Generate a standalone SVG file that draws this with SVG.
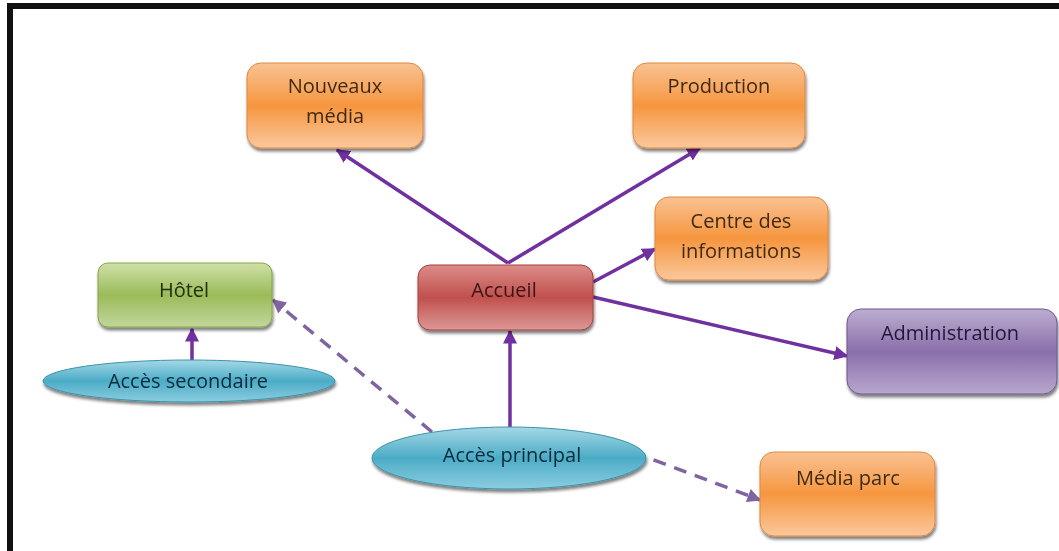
<svg xmlns="http://www.w3.org/2000/svg" width="1059" height="551" viewBox="0 0 1059 551">
<style>
.t{font-family:"Open Sans","Liberation Sans",sans-serif;font-size:20px;text-anchor:middle}
.c{stroke:#7030a0;stroke-width:3.5;fill:none}
.d{stroke:#8064a2;stroke-width:3.5;fill:none;stroke-dasharray:13 9}
</style>
<defs>
<linearGradient id="gO" x1="0" y1="0" x2="0" y2="1"><stop offset="0" stop-color="#f9c293"/><stop offset="0.5" stop-color="#f6963f"/><stop offset="1" stop-color="#fac89c"/></linearGradient>
<linearGradient id="gR" x1="0" y1="0" x2="0" y2="1"><stop offset="0" stop-color="#dc8c89"/><stop offset="0.5" stop-color="#c0504d"/><stop offset="1" stop-color="#dc9896"/></linearGradient>
<linearGradient id="gP" x1="0" y1="0" x2="0" y2="1"><stop offset="0" stop-color="#bcaed0"/><stop offset="0.5" stop-color="#8a6fab"/><stop offset="1" stop-color="#b7a8cc"/></linearGradient>
<linearGradient id="gG" x1="0" y1="0" x2="0" y2="1"><stop offset="0" stop-color="#cfe0a8"/><stop offset="0.5" stop-color="#9bbb59"/><stop offset="1" stop-color="#c3d69b"/></linearGradient>
<linearGradient id="gB" x1="0" y1="0" x2="0" y2="1"><stop offset="0" stop-color="#a5d8e6"/><stop offset="0.5" stop-color="#4bacc6"/><stop offset="1" stop-color="#8ccde0"/></linearGradient>
<filter id="sh" x="-10%" y="-10%" width="120%" height="130%"><feDropShadow dx="1" dy="3" stdDeviation="1.5" flood-color="#000" flood-opacity="0.5"/></filter>
<marker id="a" viewBox="0 0 10 10" refX="9" refY="5" markerWidth="4" markerHeight="4" orient="auto" markerUnits="strokeWidth"><path d="M0 0L10 5L0 10z" fill="#7030a0"/></marker>
<marker id="ad" viewBox="0 0 10 10" refX="9" refY="5" markerWidth="4" markerHeight="4" orient="auto" markerUnits="strokeWidth"><path d="M0 0L10 5L0 10z" fill="#8064a2"/></marker>
</defs>
<rect x="0" y="0" width="1059" height="551" fill="#fff"/>
<path d="M10 551V6H1059" fill="none" stroke="#111" stroke-width="6"/>
<g id="connectors">
<path class="c" d="M508 263L337 150" marker-end="url(#a)"/>
<path class="c" d="M508 263L700 148" marker-end="url(#a)"/>
<path class="c" d="M593 282L655 249" marker-end="url(#a)"/>
<path class="c" d="M593 297L847 356" marker-end="url(#a)"/>
<path class="c" d="M510 427V331" marker-end="url(#a)"/>
<path class="c" d="M192 360V329" marker-end="url(#a)"/>
<path class="d" d="M432 432L273 300" marker-end="url(#ad)"/>
<path class="d" d="M633 452L760 500" marker-end="url(#ad)"/>
</g>
<g id="n-nouveaux" filter="url(#sh)">
<rect x="247" y="63" width="176" height="85" rx="14" fill="url(#gO)" stroke="#e2883f" stroke-width="1"/>
<text class="t" x="335" y="93" fill="#3f2a14">Nouveaux</text>
<text class="t" x="335" y="123" fill="#3f2a14">média</text>
</g>
<g id="n-production" filter="url(#sh)">
<rect x="633" y="63" width="172" height="85" rx="14" fill="url(#gO)" stroke="#e2883f" stroke-width="1"/>
<text class="t" x="719" y="93" fill="#3f2a14">Production</text>
</g>
<g id="n-centre" filter="url(#sh)">
<rect x="655" y="197" width="173" height="83" rx="14" fill="url(#gO)" stroke="#e2883f" stroke-width="1"/>
<text class="t" x="741" y="228" fill="#3f2a14">Centre des</text>
<text class="t" x="741" y="258" fill="#3f2a14">informations</text>
</g>
<g id="n-accueil" filter="url(#sh)">
<rect x="418" y="265" width="175" height="65" rx="12" fill="url(#gR)" stroke="#a8403d" stroke-width="1"/>
<text class="t" x="504" y="297" fill="#3a1414">Accueil</text>
</g>
<g id="n-administration" filter="url(#sh)">
<rect x="847" y="309" width="210" height="85" rx="14" fill="url(#gP)" stroke="#6f5590" stroke-width="1"/>
<text class="t" x="950" y="340" fill="#24183a">Administration</text>
</g>
<g id="n-hotel" filter="url(#sh)">
<rect x="98" y="263" width="174" height="64" rx="10" fill="url(#gG)" stroke="#86a548" stroke-width="1"/>
<text class="t" x="184" y="297" fill="#22300e">Hôtel</text>
</g>
<g id="n-acces-secondaire" filter="url(#sh)">
<ellipse cx="189" cy="381" rx="146" ry="21" fill="url(#gB)" stroke="#3a93ab" stroke-width="1"/>
<text class="t" x="188" y="388" fill="#0e2a3a">Accès secondaire</text>
</g>
<g id="n-acces-principal" filter="url(#sh)">
<ellipse cx="509" cy="458" rx="137" ry="31" fill="url(#gB)" stroke="#3a93ab" stroke-width="1"/>
<text class="t" x="512" y="462" fill="#0e2a3a">Accès principal</text>
</g>
<g id="n-media-parc" filter="url(#sh)">
<rect x="760" y="452" width="175" height="84" rx="14" fill="url(#gO)" stroke="#e2883f" stroke-width="1"/>
<text class="t" x="848" y="485" fill="#3f2a14">Média parc</text>
</g>
</svg>
